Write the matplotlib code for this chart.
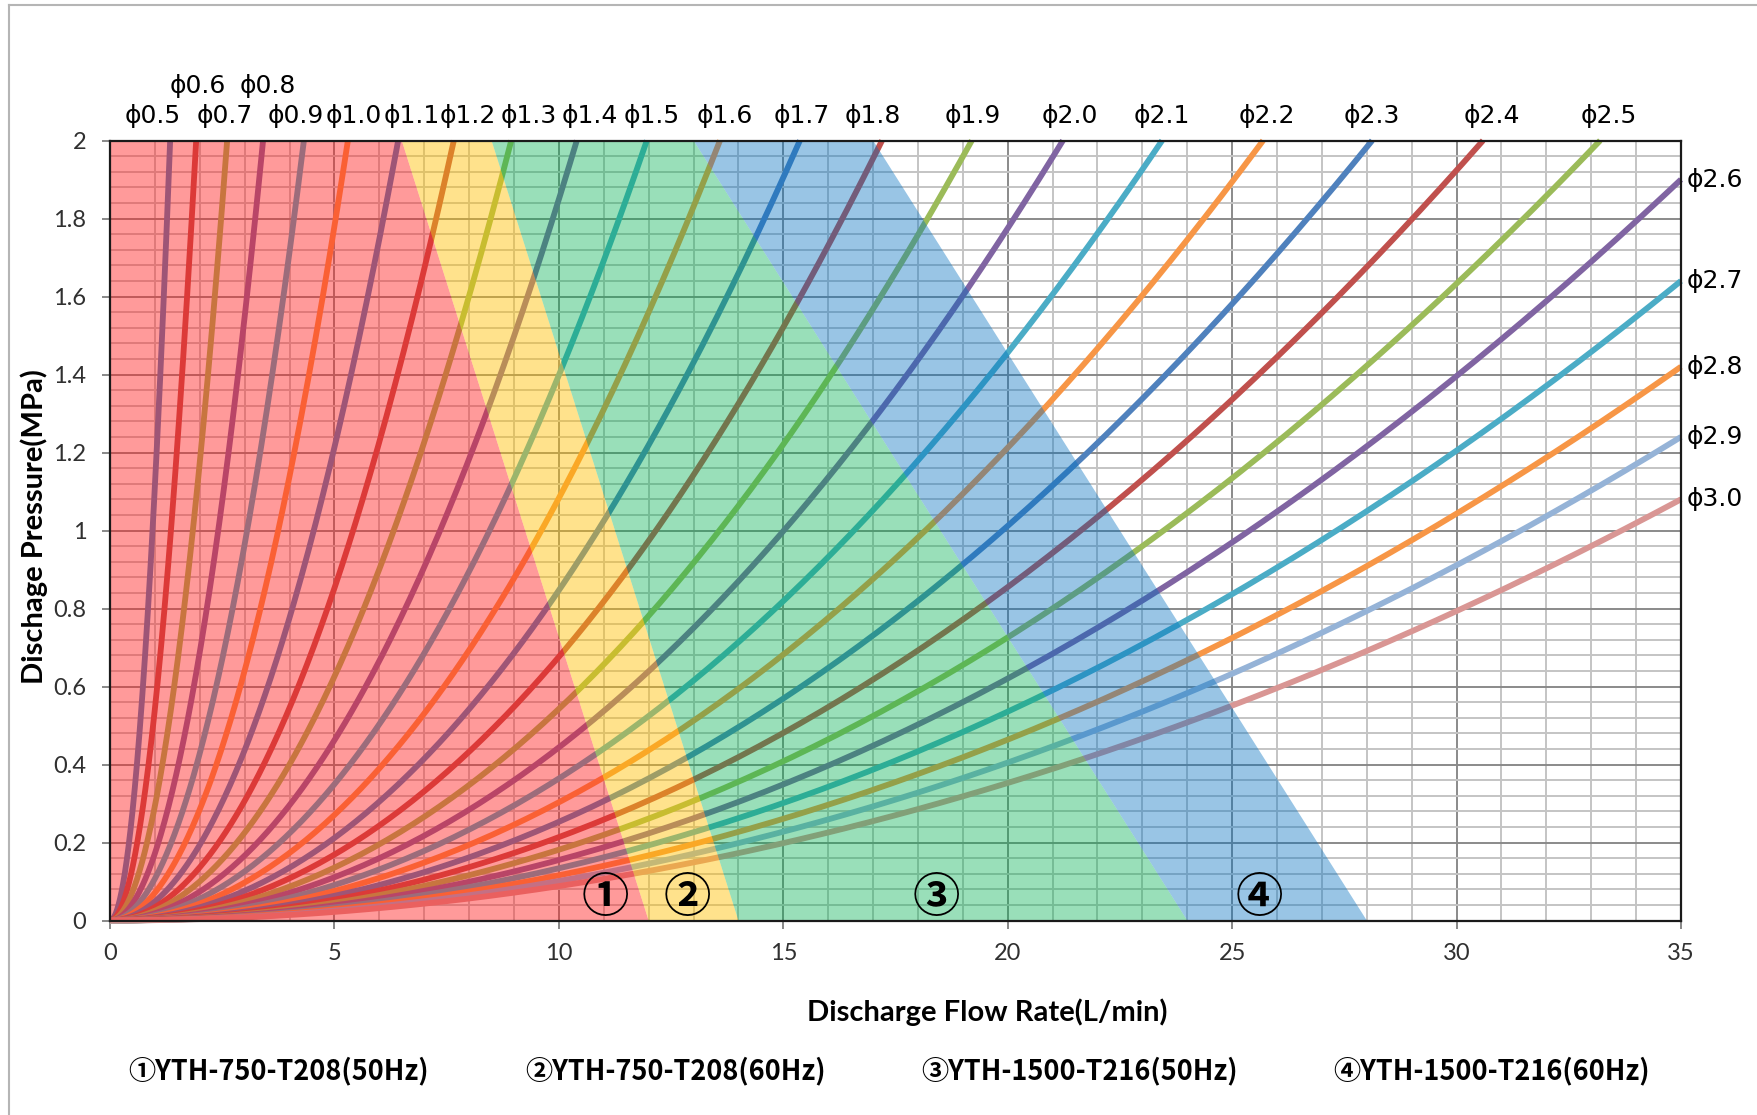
"""
Nozzle characteristic curves: discharge pressure vs. flow rate
with the operating ranges of the four YTH pump models.
"""
import numpy as np
import matplotlib.pyplot as plt
from matplotlib.lines import Line2D

# nozzle diameters whose curves leave through the top edge (2 MPa)
top_diam = [0.5, 0.6, 0.7, 0.8, 0.9, 1.0, 1.1, 1.2, 1.3, 1.4, 1.5,
            1.6, 1.7, 1.8, 1.9, 2.0, 2.1, 2.2, 2.3, 2.4, 2.5]
# flow rate (L/min) where each of those curves reaches 2 MPa
top_flow = [1.34, 1.92, 2.61, 3.41, 4.32, 5.30, 6.42, 7.66, 8.94, 10.40, 11.96,
            13.59, 15.37, 17.20, 19.20, 21.23, 23.44, 25.69, 28.12, 30.59, 33.20]

# nozzle diameters whose curves leave through the right edge (35 L/min)
side_diam = [2.6, 2.7, 2.8, 2.9, 3.0]
side_press = [1.90, 1.64, 1.42, 1.24, 1.08]

# pump models: flow limit at 2 MPa and at 0 MPa
models = ["YTH-750-T208(50Hz)", "YTH-750-T208(60Hz)",
          "YTH-1500-T216(50Hz)", "YTH-1500-T216(60Hz)"]
model_marks = ["①", "②", "③", "④"]
model_flow_top = [6.5, 8.5, 13.0, 17.0]
model_flow_bottom = [12.0, 14.0, 24.0, 28.0]

xticks = [0, 5, 10, 15, 20, 25, 30, 35]
yticks = [0, 0.2, 0.4, 0.6, 0.8, 1, 1.2, 1.4, 1.6, 1.8, 2]

excel = ["#4F81BD", "#C0504D", "#9BBB59", "#8064A2", "#4BACC6", "#F79646"]
side_extra = {2.9: "#95B3D7", 3.0: "#D99694"}
zone_colors = ["#FF2020", "#FFC000", "#00B050", "#0070C0"]
zone_alpha = [0.45, 0.45, 0.40, 0.40]

W, H = 1758, 1115
fig = plt.figure(figsize=(W / 100, H / 100), dpi=100)
ax = fig.add_axes([110 / W, 194.5 / H, 1571 / W, 780 / H])
ax.set_xlim(0, 35)
ax.set_ylim(0, 2)

# grid
ax.set_xticks(xticks)
ax.set_xticks(np.arange(0, 36, 1), minor=True)
ax.set_yticks(yticks)
ax.set_yticks(np.arange(0, 2.001, 0.04), minor=True)
ax.set_xticklabels([f"{v:g}" for v in xticks])
ax.set_yticklabels([f"{v:g}" for v in yticks])
ax.grid(which="minor", color="#c4c4c4", lw=1.4, zorder=0)
ax.grid(which="major", color="#8a8a8a", lw=1.4, zorder=0)
ax.set_axisbelow(True)
ax.tick_params(which="minor", length=0)
ax.tick_params(which="major", direction="out", length=6, width=1.3,
               color="#7f7f7f", labelsize=17, labelcolor="#303030")
ax.tick_params(axis="x", pad=10)
ax.tick_params(axis="y", pad=11)
for lab in ax.get_xticklabels() + ax.get_yticklabels():
    lab.set_family("Lato")
for s in ax.spines.values():
    s.set_color("#1a1a1a")
    s.set_linewidth(1.6)
    s.set_zorder(6)

# nozzle curves: pressure rises with the square of the flow
idx = 0
for d, qe in zip(top_diam, top_flow):
    q = np.linspace(0, qe, 200)
    ax.plot(q, 2.0 * (q / qe) ** 2, color=excel[idx % 6], lw=4.2,
            solid_capstyle="butt", zorder=2, clip_on=False)
    idx += 1
for d, pe in zip(side_diam, side_press):
    q = np.linspace(0, 35, 200)
    c = side_extra.get(d, excel[idx % 6])
    ax.plot(q, pe * (q / 35) ** 2, color=c, lw=4.2,
            solid_capstyle="butt", zorder=2, clip_on=False)
    idx += 1

# model operating zones, drawn over the curves
left_top = [0] + model_flow_top[:-1]
left_bot = [0] + model_flow_bottom[:-1]
for i in range(len(models)):
    xs = [left_bot[i], left_top[i], model_flow_top[i], model_flow_bottom[i]]
    ys = [0, 2, 2, 0]
    ax.fill(xs, ys, color=zone_colors[i], alpha=zone_alpha[i], lw=0, zorder=3)

mark_x = [11.03, 12.86, 18.4, 25.6]
for m, x in zip(model_marks, mark_x):
    ax.text(x, 0.058, m, ha="center", va="center", fontsize=34,
            family="Noto Sans CJK JP", weight="bold", zorder=7)

# diameter labels along the top
dx = [-17, 2, -2, 5, -8, 6, 14, 14, 17, 13, 5,
      5, 2, -9, 1, 7, 0, 4, 0, 9, 9]
upper = {0.6, 0.8}
for d, qe, off in zip(top_diam, top_flow, dx):
    dy = 54 if d in upper else 24
    ax.annotate(f"ϕ{d:.1f}", (qe, 2), xytext=(off, dy),
                textcoords="offset pixels", ha="center", va="center",
                fontsize=18, family="DejaVu Sans", annotation_clip=False)
for d, pe in zip(side_diam, side_press):
    ax.annotate(f"ϕ{d:.1f}", (35, pe), xytext=(6, 0),
                textcoords="offset pixels", ha="left", va="center",
                fontsize=18, family="DejaVu Sans", annotation_clip=False)

fig.text(987 / W, 1 - 1012 / H, "Discharge Flow Rate(L/min)", ha="center",
         va="center", fontsize=21, family="Lato", weight="bold")
fig.text(34 / W, 1 - 527 / H, "Dischage Pressure(MPa)", ha="center",
         va="center", rotation=90, fontsize=21, family="Lato", weight="bold")

leg_x = [279, 676, 1080, 1492]
for m, name, x in zip(model_marks, models, leg_x):
    fig.text(x / W, 1 - 1071 / H, m + name, ha="center", va="center",
             fontsize=19.5, weight="bold",
             family=["Liberation Sans Narrow", "Noto Sans CJK JP"])

# thin frame around the chart
fig.add_artist(Line2D([9 / W, 9 / W], [0, 1 - 5 / H], color="#b5b5b5", lw=1.5))
fig.add_artist(Line2D([9 / W, 1], [1 - 5 / H, 1 - 5 / H], color="#b5b5b5", lw=1.5))

fig.savefig("out.png", dpi=100)
